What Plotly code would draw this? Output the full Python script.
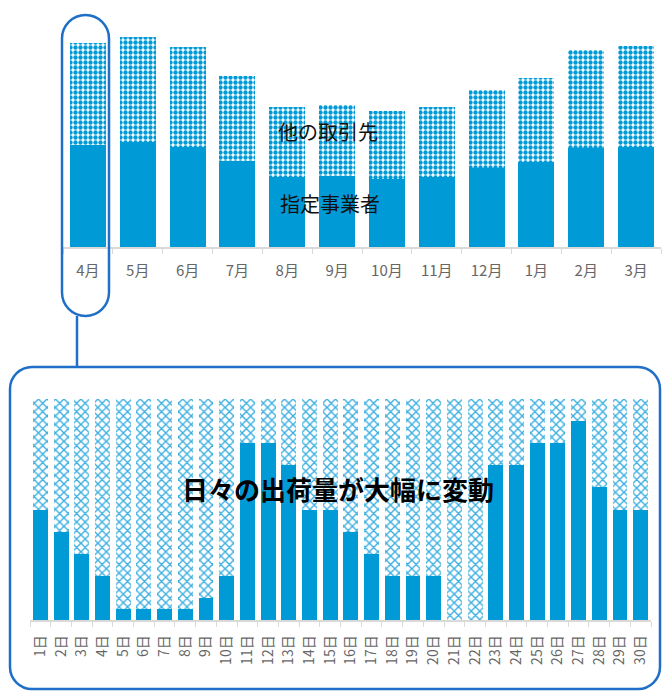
import plotly.graph_objects as go

W, H = 662, 691

# ---- data ----
months = ["4月", "5月", "6月", "7月", "8月", "9月", "10月", "11月", "12月", "1月", "2月", "3月"]
designated_monthly = [102, 105, 100, 86, 70, 71, 68, 70, 79, 85, 99, 100]
other_monthly = [102, 105, 100, 85, 70, 71, 68, 70, 78, 84, 98, 101]

days = [f"{d}日" for d in range(1, 31)]
designated_daily = [50, 40, 30, 20, 5, 5, 5, 5, 10, 20, 80, 80, 70, 50, 50, 40, 30, 20, 20, 20,
                    0, 0, 70, 70, 80, 80, 90, 60, 50, 50]
other_daily = [100 - v for v in designated_daily]

BLUE = "#009ad6"
LINE = "#1f6fc8"
GRAY_AX = "#d9d9d9"
FONT = "Noto Sans CJK JP"


def px(x):
    return x / W


def py(y):
    return 1 - y / H


fig = go.Figure()

# top chart
fig.add_bar(x=months, y=designated_monthly, xaxis="x", yaxis="y",
            marker=dict(color=BLUE, line=dict(width=0)), showlegend=False)
fig.add_bar(x=months, y=other_monthly, xaxis="x", yaxis="y",
            marker=dict(color="white", line=dict(width=0),
                        pattern=dict(shape=".", fgcolor=BLUE, bgcolor="white",
                                     size=5, solidity=0.6, fillmode="replace")),
            showlegend=False)

# bottom chart
fig.add_bar(x=days, y=designated_daily, xaxis="x2", yaxis="y2",
            marker=dict(color=BLUE, line=dict(width=0)), showlegend=False)
fig.add_bar(x=days, y=other_daily, xaxis="x2", yaxis="y2",
            marker=dict(color="white", line=dict(width=0),
                        pattern=dict(shape="x", fgcolor="#3aaee0", bgcolor="white",
                                     size=6, solidity=0.4, fillmode="replace")),
            showlegend=False)

axis_common = dict(showline=True, linecolor=GRAY_AX, linewidth=1.5, ticks="outside",
                   tickcolor=GRAY_AX, ticklen=5, tickson="boundaries", showgrid=False,
                   zeroline=False, fixedrange=True)

fig.update_layout(
    width=W, height=H,
    margin=dict(l=0, r=0, t=0, b=0),
    paper_bgcolor="white", plot_bgcolor="white",
    barmode="stack",
    bargap=0.28,
    font=dict(family=FONT, color="#666666"),
    xaxis=dict(domain=[px(63), px(661)], anchor="y",
               tickfont=dict(size=15, color="#666666"), ticklabelstandoff=9,
               **axis_common),
    yaxis=dict(domain=[py(247), 1], range=[0, 247], visible=False, fixedrange=True),
    xaxis2=dict(domain=[px(30), px(651)], anchor="y2", tickangle=-90,
                tickfont=dict(size=14, color="#666666"), ticklabelstandoff=8,
                **axis_common),
    yaxis2=dict(domain=[py(620), py(399)], range=[0, 100], visible=False, fixedrange=True),
)

# text annotations
ann_common = dict(xref="paper", yref="paper", showarrow=False,
                  xanchor="center", yanchor="middle")
fig.add_annotation(x=px(328), y=py(131), text="他の取引先",
                   font=dict(size=20, color="#111111", family=FONT), **ann_common)
fig.add_annotation(x=px(330), y=py(203), text="指定事業者",
                   font=dict(size=20, color="#111111", family=FONT), **ann_common)
fig.add_annotation(x=px(338), y=py(488), text="<b>日々の出荷量が大幅に変動</b>",
                   font=dict(size=26, color="#000000", family=FONT), **ann_common)


def rounded_rect(l, t, r, b, rad):
    k = 0.5523 * rad
    pts = [
        ("M", [(l + rad, t)]),
        ("L", [(r - rad, t)]),
        ("C", [(r - rad + k, t), (r, t + rad - k), (r, t + rad)]),
        ("L", [(r, b - rad)]),
        ("C", [(r, b - rad + k), (r - rad + k, b), (r - rad, b)]),
        ("L", [(l + rad, b)]),
        ("C", [(l + rad - k, b), (l, b - rad + k), (l, b - rad)]),
        ("L", [(l, t + rad)]),
        ("C", [(l, t + rad - k), (l + rad - k, t), (l + rad, t)]),
    ]
    s = ""
    for cmd, ps in pts:
        s += cmd + " " + " ".join(f"{px(x):.5f},{py(y):.5f}" for x, y in ps) + " "
    return s + "Z"


fig.add_shape(type="path", xref="paper", yref="paper",
              path=rounded_rect(62, 15, 109, 316, 23.5),
              line=dict(color=LINE, width=2.5), fillcolor="rgba(0,0,0,0)")
fig.add_shape(type="line", xref="paper", yref="paper",
              x0=px(77), x1=px(77), y0=py(316), y1=py(367),
              line=dict(color=LINE, width=2.5))
fig.add_shape(type="path", xref="paper", yref="paper",
              path=rounded_rect(10, 367, 660, 689, 22),
              line=dict(color=LINE, width=2.5), fillcolor="rgba(0,0,0,0)")

fig.write_html("out.html")
